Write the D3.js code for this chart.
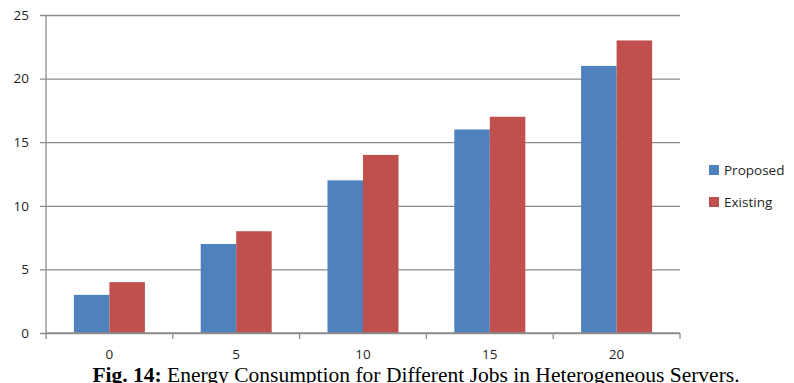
<!DOCTYPE html>
<html>
<head>
<meta charset="utf-8">
<script src="https://cdn.jsdelivr.net/npm/d3@7"></script>
<style>
  html, body { margin: 0; padding: 0; background: #fff; }
  svg { display: block; }
</style>
</head>
<body>
<svg id="chart" width="794" height="383"></svg>
<script>
// Jobs (x categories) and energy consumption per approach
const jobs = ["0", "5", "10", "15", "20"];
const seriesNames = ["Proposed", "Existing"];
const proposed = [3, 7, 12, 16, 21];
const existing = [4, 8, 14, 17, 23];
const yTicks = [0, 5, 10, 15, 20, 25];
const colors = ["#4F81BD", "#C0504D"];

const svg = d3.select("#chart");
const plotL = 46, plotR = 680, plotT = 15, plotB = 333;
const labelFont = "'Open Sans', sans-serif";
const labelSize = 13.5;
const axisColor = "#8c8c8c";

const x = d3.scaleBand().domain(jobs).range([plotL, plotR]).paddingInner(0.44).paddingOuter(0.22);
const xSub = d3.scaleBand().domain(seriesNames).range([0, x.bandwidth()]);
const y = d3.scaleLinear().domain([0, 25]).range([plotB, plotT]);

// Horizontal gridlines with short ticks to the left
const yAxis = d3.axisLeft(y).tickValues(yTicks).tickSize(-(plotR - plotL)).tickPadding(17);
const gy = svg.append("g").attr("transform", `translate(${plotL},0)`).call(yAxis);
gy.select(".domain").remove();
gy.selectAll(".tick line").attr("x1", -6).attr("stroke", axisColor).attr("stroke-width", 1.3);
gy.selectAll(".tick text").attr("font-family", labelFont).attr("font-size", labelSize).attr("fill", "#1f1f1f");

// Bars
const data = jobs.map((j, i) => ({ job: j, values: [proposed[i], existing[i]] }));
const groups = svg.append("g").selectAll("g").data(data).join("g")
  .attr("transform", d => `translate(${x(d.job)},0)`);
groups.selectAll("rect").data(d => d.values.map((v, k) => ({ name: seriesNames[k], v, k })))
  .join("rect")
  .attr("x", d => xSub(d.name))
  .attr("width", xSub.bandwidth())
  .attr("y", d => y(d.v))
  .attr("height", d => y(0) - y(d.v))
  .attr("fill", d => colors[d.k]);

// Vertical axis line
svg.append("line").attr("x1", plotL).attr("x2", plotL).attr("y1", plotT).attr("y2", plotB)
  .attr("stroke", axisColor).attr("stroke-width", 1.3);

// Category axis with boundary ticks between groups
const gx = svg.append("g").attr("transform", `translate(0,${plotB})`);
gx.append("line").attr("x1", plotL).attr("x2", plotR).attr("stroke", axisColor).attr("stroke-width", 1.3);
const step = x.step();
gx.selectAll("line.b").data(d3.range(jobs.length + 1)).join("line").attr("class", "b")
  .attr("x1", i => plotL + i * step).attr("x2", i => plotL + i * step)
  .attr("y1", 0).attr("y2", 6).attr("stroke", axisColor).attr("stroke-width", 1.3);
gx.selectAll("text").data(jobs).join("text")
  .attr("x", d => x(d) + x.bandwidth() / 2).attr("y", 26)
  .attr("text-anchor", "middle").attr("font-family", labelFont).attr("font-size", labelSize).attr("fill", "#1f1f1f")
  .text(d => d);

// Legend
const legend = svg.append("g").selectAll("g").data(seriesNames).join("g")
  .attr("transform", (d, i) => `translate(709,${170 + i * 32})`);
legend.append("rect").attr("x", 0).attr("y", -5).attr("width", 10).attr("height", 10).attr("fill", (d, i) => colors[i]);
legend.append("text").attr("x", 15).attr("y", 5).attr("font-family", labelFont).attr("font-size", labelSize)
  .attr("fill", "#1f1f1f").text(d => d);

// Caption
const cap = svg.append("text").attr("x", 416).attr("y", 382).attr("text-anchor", "middle")
  .attr("font-family", "'Liberation Serif', 'Times New Roman', serif").attr("font-size", 21.5).attr("fill", "#000");
cap.append("tspan").attr("font-weight", "bold").text("Fig. 14:");
cap.append("tspan").text(" Energy Consumption for Different Jobs in Heterogeneous Servers.");
</script>
</body>
</html>
